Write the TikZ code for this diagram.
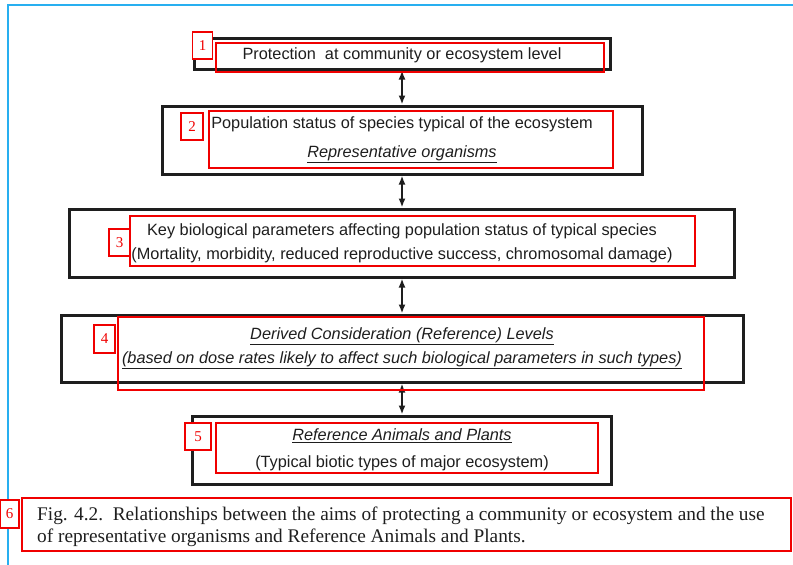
\documentclass[tikz,border=0pt]{standalone}
\usepackage{fontspec}
\setmainfont{Liberation Serif}
\newfontfamily\boxfont{Liberation Sans}
\usetikzlibrary{arrows.meta}
\definecolor{framecyan}{RGB}{40,175,240}
\definecolor{marker}{RGB}{240,0,0}
\definecolor{ink}{RGB}{30,30,30}

\begin{document}
\begin{tikzpicture}[x=1pt, y=-1pt,
        blackbox/.style = {shape=rectangle, draw=ink, line width=3pt,
        inner sep=0pt, align=center, text=ink,
        font=\boxfont\fontsize{16.3}{24}\selectfont},
        redbox/.style = {shape=rectangle, draw=marker, line width=1.6pt, inner sep=0pt},
        tag/.style = {shape=rectangle, draw=marker, fill=white, line width=1.2pt,
        inner sep=0pt, text=marker, font=\fontsize{15}{15}\selectfont,
        minimum width=20pt, minimum height=27pt},
        link/.style = {draw=ink, line width=2pt, >={Latex[length=9pt,width=7pt]}, <->}]
    \useasboundingbox (0,0) rectangle (793,565);
    \draw[framecyan, line width=1.5pt] (8,565) -- (8,5) -- (793,5);

    % the five levels
    \node[blackbox, minimum width=416pt, minimum height=31pt, text depth=0pt] (prot) at (402,53.5)
        {Protection\ \ at community or ecosystem level};
    \node[blackbox, minimum width=480pt, minimum height=68pt] (popn) at (402,140)
        {Population status of species typical of the ecosystem\\[5pt]
         \underline{\textit{Representative organisms}}};
    \node[blackbox, minimum width=665pt, minimum height=68pt] (param) at (402,243)
        {Key biological parameters affecting population status of typical species\\
         (Mortality, morbidity, reduced reproductive success, chromosomal damage)};
    \node[blackbox, minimum width=682pt, minimum height=67pt] (dcrl) at (402,348.5)
        {\underline{\textit{Derived Consideration (Reference) Levels}}\\
         \underline{\textit{(based on dose rates likely to affect such biological parameters in such types)}}};
    \node[blackbox, minimum width=419pt, minimum height=68pt] (rap) at (402,450)
        {\underline{\textit{Reference Animals and Plants}}\\[3pt]
         (Typical biotic types of major ecosystem)};

    \draw[link] (prot) -- (popn);
    \draw[link] (popn) -- (param);
    \draw[link] (param) -- (dcrl);
    \draw[link] (dcrl) -- (rap);

    % caption
    \node[anchor=north west, align=left, inner sep=0pt, text=ink,
        font=\fontsize{19.3}{22}\selectfont] (caption) at (37,507)
        {Fig. 4.2.\ \ Relationships between the aims of protecting a community or ecosystem and the use\\
         of representative organisms and Reference Animals and Plants.};

    % red marks
    \node[redbox, minimum width=388pt, minimum height=29pt] (r1) at (410,57.5) {};
    \node[redbox, minimum width=404pt, minimum height=57pt] (r2) at (411,139.5) {};
    \node[redbox, minimum width=565pt, minimum height=50pt] (r3) at (412.5,241) {};
    \node[redbox, minimum width=586pt, minimum height=73pt] (r4) at (411,353.5) {};
    \node[redbox, minimum width=382pt, minimum height=50pt] (r5) at (407,448) {};
    \node[redbox, minimum width=769pt, minimum height=53pt] (r6) at (406.5,524.5) {};

    \node[tag] (t1) at (202.5,45.5) {1};
    \node[tag, minimum width=22pt] (t2) at (192,126.5) {2};
    \node[tag, minimum width=21pt] (t3) at (119.5,242.5) {3};
    \node[tag, minimum width=21pt, minimum height=28pt] (t4) at (104.5,339) {4};
    \node[tag, minimum width=26pt] (t5) at (198,436.5) {5};
    \node[tag, minimum width=19pt, minimum height=28pt] (t6) at (9.5,514) {6};
\end{tikzpicture}
\end{document}
